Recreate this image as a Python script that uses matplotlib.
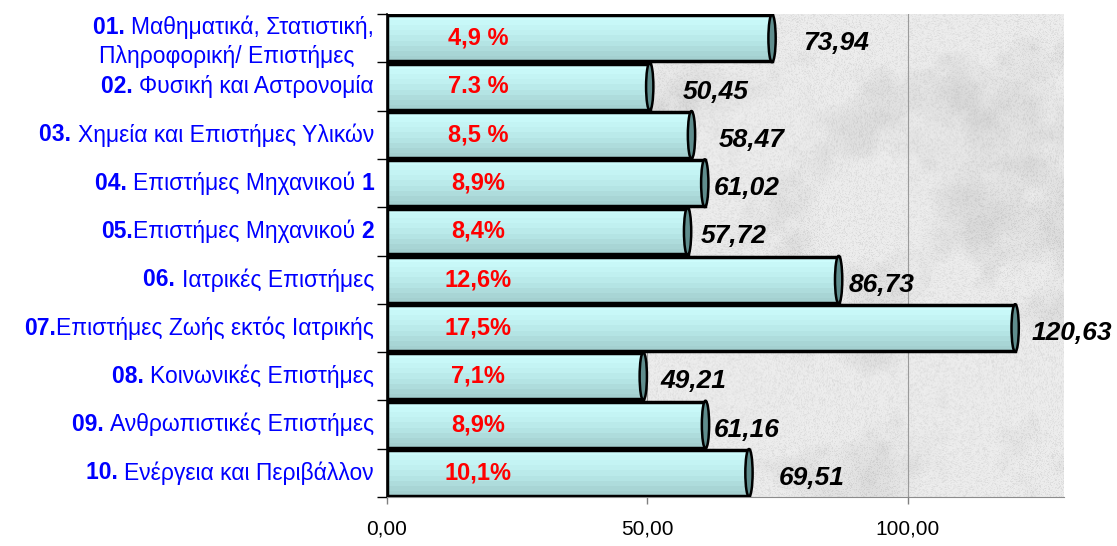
import numpy as np
import matplotlib
matplotlib.use('Agg')
import matplotlib.pyplot as plt
from matplotlib.patches import Ellipse
from matplotlib.ticker import FuncFormatter

plt.rcParams['font.family'] = ['Liberation Sans', 'DejaVu Sans']

# data
codes = ['01. ', '02. ', '03. ', '04. ', '05.', '06. ', '07.', '08. ', '09. ', '10. ']
labels = ['Μαθηματικά, Στατιστική,', 'Φυσική και Αστρονομία', 'Χημεία και Επιστήμες Υλικών',
          'Επιστήμες Μηχανικού ', 'Επιστήμες Μηχανικού ', 'Ιατρικές Επιστήμες',
          'Επιστήμες Ζωής εκτός Ιατρικής', 'Κοινωνικές Επιστήμες', 'Ανθρωπιστικές Επιστήμες',
          'Ενέργεια και Περιβάλλον']
suffixes = ['', '', '', '1', '2', '', '', '', '', '']
label1_line2 = 'Πληροφορική/ Επιστήμες'
values = [73.94, 50.45, 58.47, 61.02, 57.72, 86.73, 120.63, 49.21, 61.16, 69.51]
value_text = ['73,94', '50,45', '58,47', '61,02', '57,72', '86,73', '120,63', '49,21', '61,16', '69,51']
shares = ['4,9 %', '7.3 %', '8,5 %', '8,9%', '8,4%', '12,6%', '17,5%', '7,1%', '8,9%', '10,1%']
xticks = [0, 50, 100]

# manual label nudges (pixels) as in the original
val_dx = [31, 33, 27, 9, 13, 10, 16, 17, 8, 30]

fig = plt.figure(figsize=(11.17, 5.46), dpi=100)
ax = fig.add_axes([0.3465, 0.0897, 0.606, 0.8843])

y = np.arange(len(values))
h = 0.95
xmax = 130


def hash2(a, b):
    r = np.sin(a * 12.9898 + b * 78.233) * 43758.5453
    return r - np.floor(r)


def value_noise(nx, ny, cells, seed):
    xs = np.linspace(0, cells, nx)
    ys = np.linspace(0, cells * ny / nx, ny)
    X, Y = np.meshgrid(xs, ys)
    x0, y0 = np.floor(X), np.floor(Y)
    fx, fy = X - x0, Y - y0
    fx = fx * fx * (3 - 2 * fx)
    fy = fy * fy * (3 - 2 * fy)
    a = hash2(x0 + seed, y0)
    b = hash2(x0 + 1 + seed, y0)
    c = hash2(x0 + seed, y0 + 1)
    d = hash2(x0 + 1 + seed, y0 + 1)
    return (a * (1 - fx) + b * fx) * (1 - fy) + (c * (1 - fx) + d * fx) * fy


# marble-like background (deterministic noise)
nx, ny = 680, 485
noise = (0.5 * value_noise(nx, ny, 7, 3.1) + 0.3 * value_noise(nx, ny, 18, 7.7)
         + 0.2 * value_noise(nx, ny, 45, 1.3))
jj, ii = np.meshgrid(np.arange(nx), np.arange(ny))
grain = hash2(jj * 1.0, ii * 1.0)
marble = 0.93 - 0.22 * np.clip(noise - 0.5, 0, 1) - 0.08 * grain ** 3
marble = np.clip(marble, 0, 1)
ax.imshow(marble, cmap='gray', vmin=0, vmax=1, extent=(0, xmax, 9.5, -0.5),
          aspect='auto', zorder=0, interpolation='antialiased')

for gxv in [50, 100]:
    ax.axvline(gxv, color='#9a9a9a', lw=0.8, zorder=1)

bars = ax.barh(y, values, height=h, color='#c0f0f0', edgecolor='none', zorder=2)
band = np.array([[205, 252, 252], [200, 248, 248], [196, 244, 244], [192, 240, 240],
                 [186, 234, 234], [180, 228, 228], [174, 220, 220], [168, 213, 213],
                 [164, 208, 208]]) / 255.0
for b, v, yi in zip(bars, values, y):
    im = ax.imshow(band[:, None, :], extent=(0, v, yi + h / 2, yi - h / 2),
                   aspect='auto', zorder=2.5, interpolation='nearest')
    im.set_clip_path(b)
ax.barh(y, values, height=h, color='none', edgecolor='black', linewidth=2.5, zorder=3)
for v, yi in zip(values, y):
    ax.add_patch(Ellipse((v, yi), 1.4, h * 1.04, facecolor='#5f8d8d',
                         edgecolor='black', lw=1.8, zorder=4))

ax.set_xlim(0, xmax)
ax.set_ylim(9.5, -0.5)

# percentage labels inside bars
for s, yi in zip(shares, y):
    ax.text(17.5, yi, s, color='#ff0000', fontsize=17, fontweight='bold',
            ha='center', va='center', zorder=5)

# value labels
for v, t, yi, dx in zip(values, value_text, y, val_dx):
    ax.annotate(t, xy=(v, yi), xytext=(dx, -5), textcoords='offset pixels',
                fontsize=19, fontweight='bold', style='italic', color='black',
                ha='left', va='center', zorder=5)

# category labels: bold code + regular text (+ bold suffix)
ytr = ax.get_yaxis_transform()
blue = '#0000ff'
lfs = 16.5
for i, (c, lab, suf) in enumerate(zip(codes, labels, suffixes)):
    yy = i - 0.23 if i == 0 else i
    anchor = ax.annotate(suf if suf else '', xy=(0, yy), xycoords=ytr, xytext=(-13, 0),
                         textcoords='offset pixels', ha='right', va='center',
                         fontsize=lfs, fontweight='bold', color=blue)
    mid = ax.annotate(lab, xy=(0, 0.5), xycoords=anchor, ha='right', va='center',
                      fontsize=lfs, color=blue)
    ax.annotate(c, xy=(0, 0.5), xycoords=mid, ha='right', va='center',
                fontsize=lfs, fontweight='bold', color=blue)
ax.annotate(label1_line2, xy=(0, 0.37), xycoords=ytr, xytext=(-33, 0),
            textcoords='offset pixels', ha='right', va='center', fontsize=lfs, color=blue)

# axes styling
ax.set_yticks(np.arange(-0.5, 10, 1))
ax.set_yticklabels([])
ax.tick_params(axis='y', length=7, width=1, color='black', direction='out')
ax.set_xticks(xticks)
ax.xaxis.set_major_formatter(FuncFormatter(lambda v, p: f'{v:.2f}'.replace('.', ',')))
ax.tick_params(axis='x', length=5, width=1, color='#808080', labelsize=15, pad=11)
for sp in ['top', 'right']:
    ax.spines[sp].set_visible(False)
ax.spines['bottom'].set_color('#8c8c8c')
ax.spines['left'].set_color('black')
ax.spines['left'].set_linewidth(1.2)

fig.savefig('out.png', dpi=100)
